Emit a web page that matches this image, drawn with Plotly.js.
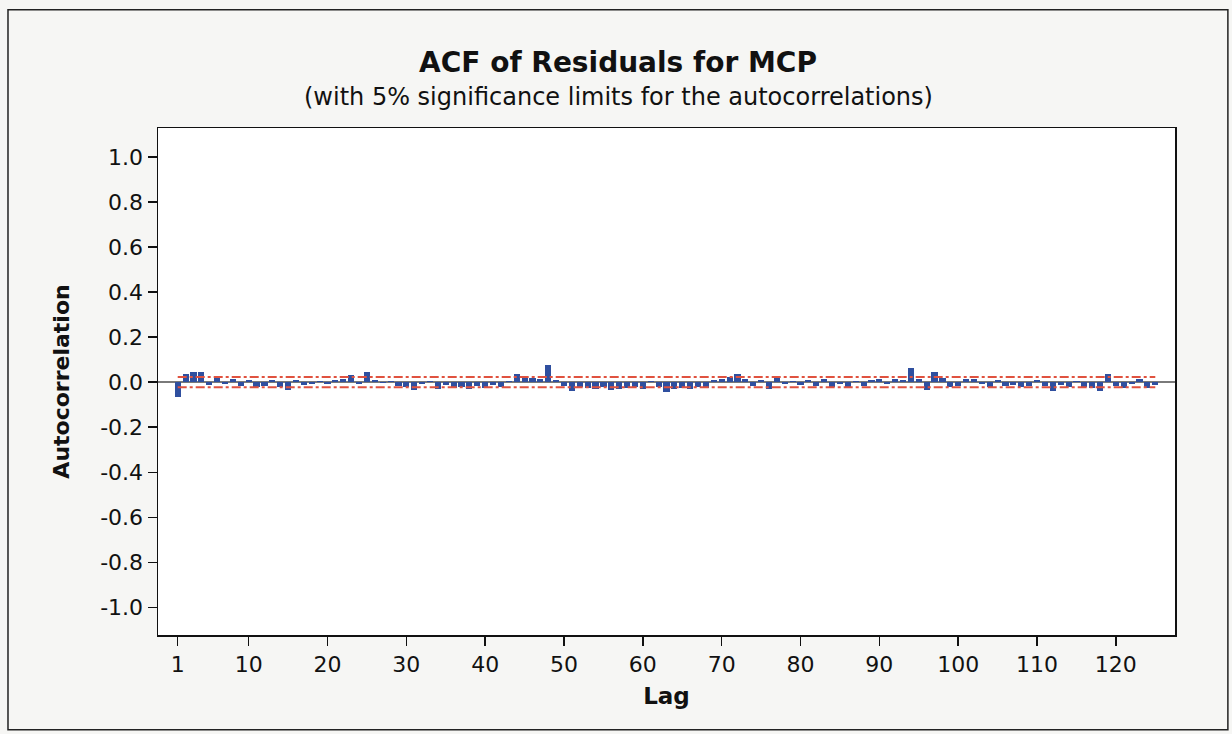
<!DOCTYPE html>
<html>
<head>
<meta charset="utf-8">
<script src="https://cdn.plot.ly/plotly-3.0.1.min.js"></script>
<style>
  html, body { margin: 0; padding: 0; background: #f6f6f4; }
  #chart { width: 1232px; height: 734px; }
</style>
</head>
<body>
<div id="chart"></div>
<script>
// Lags 1..125
const lags = Array.from({length: 125}, (_, i) => i + 1);

// Autocorrelation values
const acf = [
  -0.065, 0.035, 0.045, 0.045, -0.012, 0.018, -0.008, 0.015, -0.018, 0.010,
  -0.020, -0.015, 0.010, -0.020, -0.035, 0.008, -0.012, -0.008, 0.006, -0.010,
  0.008, 0.012, 0.030, -0.010, 0.045, 0.010, -0.005, 0.006, -0.015, -0.020,
  -0.035, -0.010, 0.005, -0.030, -0.012, -0.025, -0.020, -0.030, -0.018, -0.025,
  -0.012, -0.020, 0.005, 0.035, 0.025, 0.020, 0.015, 0.075, 0.010, -0.015,
  -0.040, -0.020, -0.025, -0.030, -0.020, -0.035, -0.030, -0.025, -0.020, -0.030,
  0.006, -0.020, -0.045, -0.030, -0.025, -0.030, -0.020, -0.025, 0.008, 0.012,
  0.025, 0.035, 0.012, -0.015, 0.008, -0.030, 0.022, -0.010, 0.005, -0.012,
  0.010, -0.018, 0.012, -0.020, -0.010, -0.025, 0.006, -0.015, 0.010, 0.012,
  -0.010, 0.015, 0.010, 0.065, 0.015, -0.035, 0.045, 0.020, -0.020, -0.015,
  0.012, 0.015, -0.010, -0.020, 0.008, -0.015, -0.012, -0.020, -0.015, 0.008,
  -0.018, -0.040, -0.012, -0.020, 0.006, -0.020, -0.025, -0.040, 0.035, -0.015,
  -0.025, -0.010, 0.012, -0.025, -0.012
];

// 5% significance limits
const upperLimit = lags.map(() => 0.023);
const lowerLimit = lags.map(() => -0.023);

const xTickVals = [1, 10, 20, 30, 40, 50, 60, 70, 80, 90, 100, 110, 120];
const xTickText = ["1", "10", "20", "30", "40", "50", "60", "70", "80", "90", "100", "110", "120"];
const yTickVals = [1.0, 0.8, 0.6, 0.4, 0.2, 0.0, -0.2, -0.4, -0.6, -0.8, -1.0];
const yTickText = ["1.0", "0.8", "0.6", "0.4", "0.2", "0.0", "-0.2", "-0.4", "-0.6", "-0.8", "-1.0"];

const titleText = "ACF of Residuals for MCP";
const subtitleText = "(with 5% significance limits for the autocorrelations)";

const fontFam = "DejaVu Sans, Verdana, sans-serif";

const traces = [
  {
    type: "bar", x: lags, y: acf, width: 0.78,
    marker: {color: "#2f4f9f", line: {width: 0}},
    hoverinfo: "x+y", showlegend: false
  },
  {
    type: "scatter", mode: "lines", x: lags, y: upperLimit,
    line: {color: "#e0523f", width: 2, dash: "dashdot"},
    showlegend: false, hoverinfo: "skip"
  },
  {
    type: "scatter", mode: "lines", x: lags, y: lowerLimit,
    line: {color: "#e0523f", width: 2, dash: "dashdot"},
    showlegend: false, hoverinfo: "skip"
  }
];

const layout = {
  width: 1232, height: 734,
  paper_bgcolor: "#f6f6f4",
  plot_bgcolor: "#ffffff",
  margin: {l: 158, r: 57, t: 128, b: 99},
  font: {family: fontFam, color: "#111111"},
  title: {
    text: "<b>" + titleText + "</b>",
    font: {family: fontFam, size: 28, color: "#111111"},
    x: 618 / 1232, xanchor: "center", xref: "container",
    y: 1 - 62 / 734, yanchor: "middle", yref: "container"
  },
  bargap: 0,
  xaxis: {
    range: [-1.5, 127.5],
    tickmode: "array", tickvals: xTickVals, ticktext: xTickText,
    ticks: "outside", ticklen: 9, tickwidth: 1.5, tickcolor: "#111",
    showline: true, linecolor: "#111", linewidth: 1.5, mirror: true,
    showgrid: false, zeroline: false,
    tickfont: {family: fontFam, size: 22, color: "#111"},
    title: {text: "<b>Lag</b>", font: {family: fontFam, size: 23, color: "#111"}, standoff: 12}
  },
  yaxis: {
    range: [-1.122, 1.128],
    tickmode: "array", tickvals: yTickVals, ticktext: yTickText,
    ticks: "outside", ticklen: 9, tickwidth: 1.5, tickcolor: "#111",
    showline: true, linecolor: "#111", linewidth: 1.5, mirror: true,
    showgrid: false,
    zeroline: true, zerolinecolor: "#7a7a7a", zerolinewidth: 1.5,
    tickfont: {family: fontFam, size: 22, color: "#111"},
    title: {text: "<b>Autocorrelation</b>", font: {family: fontFam, size: 22, color: "#111"}, standoff: 24}
  },
  annotations: [
    {text: subtitleText, xref: "paper", yref: "paper", x: (618 - 158) / 1017, y: (635 - 97) / 507,
     xanchor: "center", yanchor: "middle", showarrow: false,
     font: {family: fontFam, size: 24, color: "#111"}}
  ],
  shapes: [
    {type: "rect", xref: "paper", yref: "paper", x0: -0.1475, x1: 1.052, y0: -0.187, y1: 1.233,
     line: {color: "#222", width: 1.5}, fillcolor: "rgba(0,0,0,0)", layer: "below"}
  ]
};

Plotly.newPlot("chart", traces, layout, {displayModeBar: false, staticPlot: true});
</script>
</body>
</html>
